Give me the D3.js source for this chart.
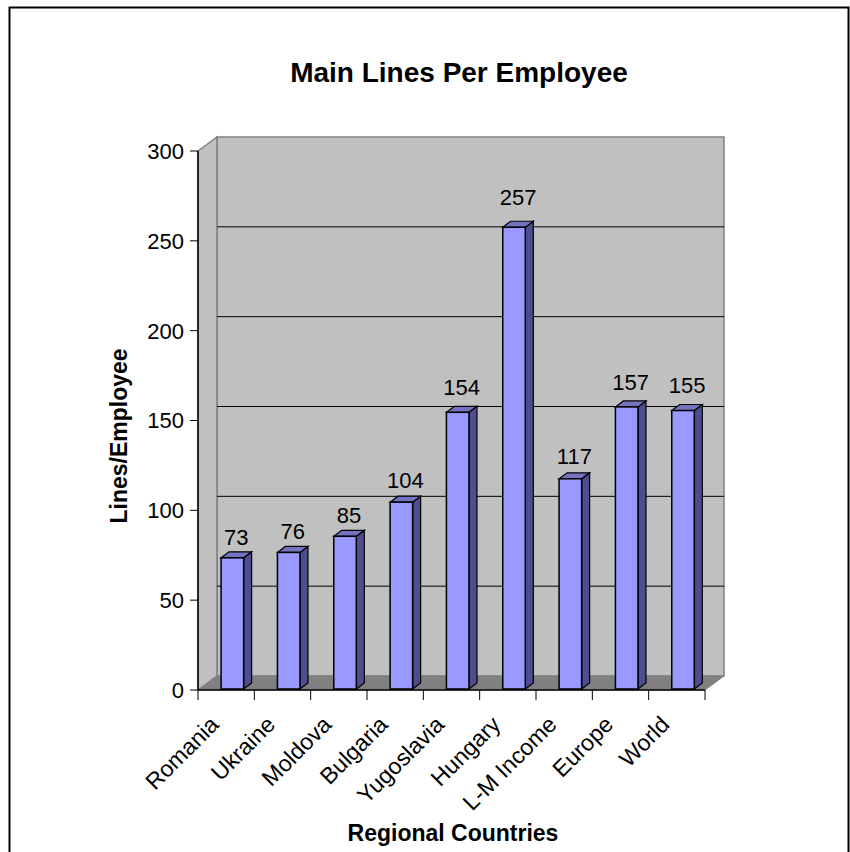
<script src="https://d3js.org/d3.v7.min.js"></script>
<body style="margin:0">
<script>
  const categories = ["Romania", "Ukraine", "Moldova", "Bulgaria", "Yugoslavia", "Hungary", "L-M Income", "Europe", "World"];
  const values = [73, 76, 85, 104, 154, 257, 117, 157, 155];
  const yTicks = [0, 50, 100, 150, 200, 250, 300];

  const width = 850, height = 852;
  const plotLeft = 198, plotRight = 705, plotTop = 151, plotBottom = 690;
  const DX = 19, DY = -14;     // wall depth
  const BDX = 8, BDY = -6;     // bar depth

  var svg = d3.select("body").append("svg")
    .attr("width", width).attr("height", height)
    .style("font-family", "Arial, 'Liberation Sans', sans-serif");

  svg.append("rect").attr("x", 0).attr("y", 0).attr("width", width).attr("height", height).attr("fill", "white");
  svg.append("rect").attr("x", 9.5).attr("y", 7.5).attr("width", 839).attr("height", 870)
    .attr("fill", "none").attr("stroke", "black").attr("stroke-width", 2);

  var x = d3.scaleBand().domain(categories).range([plotLeft, plotRight]);
  var y = d3.scaleLinear().domain([0, 300]).range([plotBottom, plotTop]);
  // data labels drift upward a little with perspective
  var labelY = d3.scaleLinear().domain([0, 300]).range([680, 125]);

  // back wall
  svg.append("rect").attr("x", plotLeft + DX).attr("y", plotTop + DY)
    .attr("width", plotRight - plotLeft).attr("height", plotBottom - plotTop)
    .attr("fill", "#c0c0c0").attr("stroke", "#808080").attr("stroke-width", 1.5);
  // side wall
  svg.append("polygon")
    .attr("points", [[plotLeft, plotTop], [plotLeft + DX, plotTop + DY], [plotLeft + DX, plotBottom + DY], [plotLeft, plotBottom]].join(" "))
    .attr("fill", "#c0c0c0").attr("stroke", "#808080").attr("stroke-width", 1.5);
  // floor
  svg.append("polygon")
    .attr("points", [[plotLeft, plotBottom], [plotLeft + DX, plotBottom + DY], [plotRight + DX, plotBottom + DY], [plotRight, plotBottom]].join(" "))
    .attr("fill", "#808080").attr("stroke", "#808080").attr("stroke-width", 1);

  // gridlines on back wall
  svg.selectAll(".grid").data(yTicks.filter(d => d > 0 && d < 300)).enter().append("line")
    .attr("x1", plotLeft + DX).attr("x2", plotRight + DX)
    .attr("y1", d => y(d) + DY).attr("y2", d => y(d) + DY)
    .attr("stroke", "black").attr("stroke-width", 1);

  // axes
  svg.append("line").attr("x1", plotLeft).attr("x2", plotLeft).attr("y1", plotTop).attr("y2", plotBottom)
    .attr("stroke", "black").attr("stroke-width", 1.5);
  svg.append("line").attr("x1", plotLeft).attr("x2", plotRight).attr("y1", plotBottom).attr("y2", plotBottom)
    .attr("stroke", "black").attr("stroke-width", 1.5);

  svg.selectAll(".ytick").data(yTicks).enter().append("line")
    .attr("x1", plotLeft - 8).attr("x2", plotLeft).attr("y1", d => y(d)).attr("y2", d => y(d))
    .attr("stroke", "black");
  svg.selectAll(".ylab").data(yTicks).enter().append("text")
    .attr("x", plotLeft - 14).attr("y", d => y(d)).attr("dy", "0.36em")
    .attr("text-anchor", "end").attr("font-size", "22px").text(d => d);

  var xt = categories.map(c => x(c)).concat([plotRight]);
  svg.selectAll(".xtick").data(xt).enter().append("line")
    .attr("x1", d => d).attr("x2", d => d).attr("y1", plotBottom).attr("y2", plotBottom + 10)
    .attr("stroke", "black");

  // bars
  var bw = x.bandwidth() * 0.4;
  var g = svg.selectAll(".bar").data(categories).enter().append("g");
  function bx(i) { return x(categories[i]) + x.bandwidth() * 0.41; }
  g.append("polygon")
    .attr("points", (d, i) => {
      var x0 = bx(i) + bw, yt = y(values[i]) - 1, yb = plotBottom - 1;
      return [[x0, yt], [x0 + BDX, yt + BDY], [x0 + BDX, yb + BDY], [x0, yb]].join(" ");
    })
    .attr("fill", "#4d4d8f").attr("stroke", "black").attr("stroke-width", 1.2);
  g.append("polygon")
    .attr("points", (d, i) => {
      var x0 = bx(i), yt = y(values[i]) - 1;
      return [[x0, yt], [x0 + BDX, yt + BDY], [x0 + bw + BDX, yt + BDY], [x0 + bw, yt]].join(" ");
    })
    .attr("fill", "#7373bf").attr("stroke", "black").attr("stroke-width", 1.2);
  g.append("rect")
    .attr("x", (d, i) => bx(i)).attr("y", (d, i) => y(values[i]) - 1)
    .attr("width", bw).attr("height", (d, i) => plotBottom - y(values[i]))
    .attr("fill", "#9999ff").attr("stroke", "black").attr("stroke-width", 1.5);
  g.append("text")
    .attr("x", (d, i) => bx(i) + bw / 2 + BDX / 2)
    .attr("y", (d, i) => labelY(values[i]))
    .attr("text-anchor", "middle").attr("font-size", "22px")
    .text((d, i) => values[i]);

  // x labels
  svg.selectAll(".xlab").data(categories).enter().append("text")
    .attr("transform", d => "translate(" + (x(d) + x.bandwidth() / 2 - 6) + "," + (plotBottom + 36) + ") rotate(-45)")
    .attr("text-anchor", "end").attr("font-size", "23px").text(d => d);

  // titles
  svg.append("text").attr("x", 459).attr("y", 82).attr("text-anchor", "middle")
    .attr("font-size", "28px").attr("font-weight", "bold").text("Main Lines Per Employee");
  svg.append("text").attr("transform", "translate(127,436) rotate(-90)").attr("text-anchor", "middle")
    .attr("font-size", "23px").attr("font-weight", "bold").text("Lines/Employee");
  svg.append("text").attr("x", 453).attr("y", 841).attr("text-anchor", "middle")
    .attr("font-size", "23px").attr("font-weight", "bold").text("Regional Countries");
</script>
</body>
